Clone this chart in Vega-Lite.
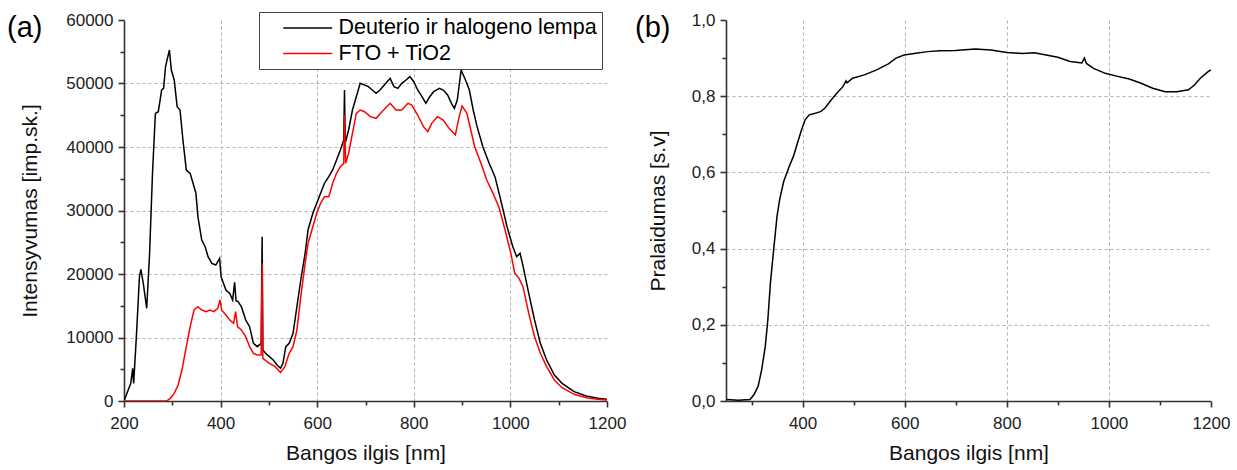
{
  "$schema": "https://vega.github.io/schema/vega-lite/v6.json",
  "padding": {"left": 7, "top": 11, "right": 5, "bottom": 5},
  "background": "white",
  "config": {
    "view": {"stroke": null},
    "font": "Liberation Sans",
    "axis": {
      "labelFont": "Liberation Sans",
      "labelFontSize": 17,
      "labelColor": "#222",
      "labelFlush": false,
      "titleFont": "Liberation Sans",
      "titleFontSize": 21,
      "titleFontWeight": "normal",
      "titleColor": "#111",
      "domainColor": "#333",
      "domainWidth": 1.6,
      "tickColor": "#333",
      "tickWidth": 1.6,
      "gridColor": "#b0b0b0",
      "gridDash": [3, 3],
      "gridWidth": 1
    }
  },
  "datasets": {
    "a": [
      {"x": 200, "y": 0, "s": "Deuterio ir halogeno lempa"},
      {"x": 214, "y": 2782, "s": "Deuterio ir halogeno lempa"},
      {"x": 218, "y": 5144, "s": "Deuterio ir halogeno lempa"},
      {"x": 220, "y": 2782, "s": "Deuterio ir halogeno lempa"},
      {"x": 226, "y": 10656, "s": "Deuterio ir halogeno lempa"},
      {"x": 232, "y": 19580, "s": "Deuterio ir halogeno lempa"},
      {"x": 235, "y": 20735, "s": "Deuterio ir halogeno lempa"},
      {"x": 240, "y": 18500, "s": "Deuterio ir halogeno lempa"},
      {"x": 247, "y": 14593, "s": "Deuterio ir halogeno lempa"},
      {"x": 253, "y": 23255, "s": "Deuterio ir halogeno lempa"},
      {"x": 259, "y": 35853, "s": "Deuterio ir halogeno lempa"},
      {"x": 265, "y": 45300, "s": "Deuterio ir halogeno lempa"},
      {"x": 271, "y": 45563, "s": "Deuterio ir halogeno lempa"},
      {"x": 278, "y": 48976, "s": "Deuterio ir halogeno lempa"},
      {"x": 282, "y": 49240, "s": "Deuterio ir halogeno lempa"},
      {"x": 286, "y": 52651, "s": "Deuterio ir halogeno lempa"},
      {"x": 294, "y": 55276, "s": "Deuterio ir halogeno lempa"},
      {"x": 298, "y": 52126, "s": "Deuterio ir halogeno lempa"},
      {"x": 304, "y": 50551, "s": "Deuterio ir halogeno lempa"},
      {"x": 310, "y": 46352, "s": "Deuterio ir halogeno lempa"},
      {"x": 316, "y": 45825, "s": "Deuterio ir halogeno lempa"},
      {"x": 322, "y": 41100, "s": "Deuterio ir halogeno lempa"},
      {"x": 329, "y": 36378, "s": "Deuterio ir halogeno lempa"},
      {"x": 337, "y": 35853, "s": "Deuterio ir halogeno lempa"},
      {"x": 345, "y": 33753, "s": "Deuterio ir halogeno lempa"},
      {"x": 349, "y": 32703, "s": "Deuterio ir halogeno lempa"},
      {"x": 353, "y": 29028, "s": "Deuterio ir halogeno lempa"},
      {"x": 361, "y": 25354, "s": "Deuterio ir halogeno lempa"},
      {"x": 368, "y": 24304, "s": "Deuterio ir halogeno lempa"},
      {"x": 374, "y": 22729, "s": "Deuterio ir halogeno lempa"},
      {"x": 382, "y": 21680, "s": "Deuterio ir halogeno lempa"},
      {"x": 390, "y": 21417, "s": "Deuterio ir halogeno lempa"},
      {"x": 398, "y": 22467, "s": "Deuterio ir halogeno lempa"},
      {"x": 401, "y": 19580, "s": "Deuterio ir halogeno lempa"},
      {"x": 411, "y": 17480, "s": "Deuterio ir halogeno lempa"},
      {"x": 419, "y": 16955, "s": "Deuterio ir halogeno lempa"},
      {"x": 425, "y": 15900, "s": "Deuterio ir halogeno lempa"},
      {"x": 429, "y": 18700, "s": "Deuterio ir halogeno lempa"},
      {"x": 432, "y": 15800, "s": "Deuterio ir halogeno lempa"},
      {"x": 436, "y": 15643, "s": "Deuterio ir halogeno lempa"},
      {"x": 443, "y": 14855, "s": "Deuterio ir halogeno lempa"},
      {"x": 452, "y": 12755, "s": "Deuterio ir halogeno lempa"},
      {"x": 460, "y": 11706, "s": "Deuterio ir halogeno lempa"},
      {"x": 468, "y": 9081, "s": "Deuterio ir halogeno lempa"},
      {"x": 476, "y": 8556, "s": "Deuterio ir halogeno lempa"},
      {"x": 484, "y": 9081, "s": "Deuterio ir halogeno lempa"},
      {"x": 486, "y": 25879, "s": "Deuterio ir halogeno lempa"},
      {"x": 487.5, "y": 8031, "s": "Deuterio ir halogeno lempa"},
      {"x": 493, "y": 7506, "s": "Deuterio ir halogeno lempa"},
      {"x": 501, "y": 6981, "s": "Deuterio ir halogeno lempa"},
      {"x": 509, "y": 6457, "s": "Deuterio ir halogeno lempa"},
      {"x": 517, "y": 5669, "s": "Deuterio ir halogeno lempa"},
      {"x": 524, "y": 5144, "s": "Deuterio ir halogeno lempa"},
      {"x": 529, "y": 5932, "s": "Deuterio ir halogeno lempa"},
      {"x": 535, "y": 8556, "s": "Deuterio ir halogeno lempa"},
      {"x": 542, "y": 9081, "s": "Deuterio ir halogeno lempa"},
      {"x": 550, "y": 10656, "s": "Deuterio ir halogeno lempa"},
      {"x": 558, "y": 14855, "s": "Deuterio ir halogeno lempa"},
      {"x": 566, "y": 19055, "s": "Deuterio ir halogeno lempa"},
      {"x": 575, "y": 23255, "s": "Deuterio ir halogeno lempa"},
      {"x": 581, "y": 26929, "s": "Deuterio ir halogeno lempa"},
      {"x": 591, "y": 29553, "s": "Deuterio ir halogeno lempa"},
      {"x": 599, "y": 31128, "s": "Deuterio ir halogeno lempa"},
      {"x": 607, "y": 32703, "s": "Deuterio ir halogeno lempa"},
      {"x": 615, "y": 34278, "s": "Deuterio ir halogeno lempa"},
      {"x": 624, "y": 35328, "s": "Deuterio ir halogeno lempa"},
      {"x": 632, "y": 36378, "s": "Deuterio ir halogeno lempa"},
      {"x": 640, "y": 37952, "s": "Deuterio ir halogeno lempa"},
      {"x": 648, "y": 39527, "s": "Deuterio ir halogeno lempa"},
      {"x": 655, "y": 41102, "s": "Deuterio ir halogeno lempa"},
      {"x": 656.5, "y": 48976, "s": "Deuterio ir halogeno lempa"},
      {"x": 658, "y": 40577, "s": "Deuterio ir halogeno lempa"},
      {"x": 665, "y": 42677, "s": "Deuterio ir halogeno lempa"},
      {"x": 673, "y": 45826, "s": "Deuterio ir halogeno lempa"},
      {"x": 681, "y": 47926, "s": "Deuterio ir halogeno lempa"},
      {"x": 689, "y": 50026, "s": "Deuterio ir halogeno lempa"},
      {"x": 698, "y": 49763, "s": "Deuterio ir halogeno lempa"},
      {"x": 706, "y": 49500, "s": "Deuterio ir halogeno lempa"},
      {"x": 714, "y": 48976, "s": "Deuterio ir halogeno lempa"},
      {"x": 722, "y": 48451, "s": "Deuterio ir halogeno lempa"},
      {"x": 730, "y": 48976, "s": "Deuterio ir halogeno lempa"},
      {"x": 739, "y": 49763, "s": "Deuterio ir halogeno lempa"},
      {"x": 751, "y": 50813, "s": "Deuterio ir halogeno lempa"},
      {"x": 759, "y": 49500, "s": "Deuterio ir halogeno lempa"},
      {"x": 767, "y": 49238, "s": "Deuterio ir halogeno lempa"},
      {"x": 775, "y": 50026, "s": "Deuterio ir halogeno lempa"},
      {"x": 784, "y": 50551, "s": "Deuterio ir halogeno lempa"},
      {"x": 792, "y": 51076, "s": "Deuterio ir halogeno lempa"},
      {"x": 800, "y": 50288, "s": "Deuterio ir halogeno lempa"},
      {"x": 808, "y": 48976, "s": "Deuterio ir halogeno lempa"},
      {"x": 817, "y": 47926, "s": "Deuterio ir halogeno lempa"},
      {"x": 825, "y": 46876, "s": "Deuterio ir halogeno lempa"},
      {"x": 833, "y": 47926, "s": "Deuterio ir halogeno lempa"},
      {"x": 841, "y": 48713, "s": "Deuterio ir halogeno lempa"},
      {"x": 853, "y": 49238, "s": "Deuterio ir halogeno lempa"},
      {"x": 861, "y": 48976, "s": "Deuterio ir halogeno lempa"},
      {"x": 870, "y": 48188, "s": "Deuterio ir halogeno lempa"},
      {"x": 878, "y": 46876, "s": "Deuterio ir halogeno lempa"},
      {"x": 884, "y": 46089, "s": "Deuterio ir halogeno lempa"},
      {"x": 890, "y": 47401, "s": "Deuterio ir halogeno lempa"},
      {"x": 898, "y": 52126, "s": "Deuterio ir halogeno lempa"},
      {"x": 907, "y": 50551, "s": "Deuterio ir halogeno lempa"},
      {"x": 915, "y": 48976, "s": "Deuterio ir halogeno lempa"},
      {"x": 923, "y": 45826, "s": "Deuterio ir halogeno lempa"},
      {"x": 931, "y": 43202, "s": "Deuterio ir halogeno lempa"},
      {"x": 943, "y": 40052, "s": "Deuterio ir halogeno lempa"},
      {"x": 956, "y": 37427, "s": "Deuterio ir halogeno lempa"},
      {"x": 968, "y": 35328, "s": "Deuterio ir halogeno lempa"},
      {"x": 980, "y": 31653, "s": "Deuterio ir halogeno lempa"},
      {"x": 993, "y": 27454, "s": "Deuterio ir halogeno lempa"},
      {"x": 1005, "y": 24304, "s": "Deuterio ir halogeno lempa"},
      {"x": 1013, "y": 22729, "s": "Deuterio ir halogeno lempa"},
      {"x": 1020, "y": 23255, "s": "Deuterio ir halogeno lempa"},
      {"x": 1025, "y": 21680, "s": "Deuterio ir halogeno lempa"},
      {"x": 1038, "y": 16955, "s": "Deuterio ir halogeno lempa"},
      {"x": 1050, "y": 12756, "s": "Deuterio ir halogeno lempa"},
      {"x": 1062, "y": 9081, "s": "Deuterio ir halogeno lempa"},
      {"x": 1075, "y": 6457, "s": "Deuterio ir halogeno lempa"},
      {"x": 1091, "y": 4094, "s": "Deuterio ir halogeno lempa"},
      {"x": 1107, "y": 2782, "s": "Deuterio ir halogeno lempa"},
      {"x": 1132, "y": 1470, "s": "Deuterio ir halogeno lempa"},
      {"x": 1157, "y": 787, "s": "Deuterio ir halogeno lempa"},
      {"x": 1181, "y": 420, "s": "Deuterio ir halogeno lempa"},
      {"x": 1200, "y": 262, "s": "Deuterio ir halogeno lempa"},
      {"x": 200, "y": 0, "s": "FTO + TiO2"},
      {"x": 288, "y": 0, "s": "FTO + TiO2"},
      {"x": 296, "y": 420, "s": "FTO + TiO2"},
      {"x": 304, "y": 1207, "s": "FTO + TiO2"},
      {"x": 312, "y": 2520, "s": "FTO + TiO2"},
      {"x": 320, "y": 4882, "s": "FTO + TiO2"},
      {"x": 329, "y": 8556, "s": "FTO + TiO2"},
      {"x": 337, "y": 11706, "s": "FTO + TiO2"},
      {"x": 345, "y": 14330, "s": "FTO + TiO2"},
      {"x": 353, "y": 14855, "s": "FTO + TiO2"},
      {"x": 361, "y": 14330, "s": "FTO + TiO2"},
      {"x": 370, "y": 14068, "s": "FTO + TiO2"},
      {"x": 378, "y": 14330, "s": "FTO + TiO2"},
      {"x": 386, "y": 14068, "s": "FTO + TiO2"},
      {"x": 394, "y": 14593, "s": "FTO + TiO2"},
      {"x": 399, "y": 15905, "s": "FTO + TiO2"},
      {"x": 402, "y": 14330, "s": "FTO + TiO2"},
      {"x": 411, "y": 13543, "s": "FTO + TiO2"},
      {"x": 419, "y": 12756, "s": "FTO + TiO2"},
      {"x": 427, "y": 12231, "s": "FTO + TiO2"},
      {"x": 431, "y": 14068, "s": "FTO + TiO2"},
      {"x": 435, "y": 11706, "s": "FTO + TiO2"},
      {"x": 443, "y": 11181, "s": "FTO + TiO2"},
      {"x": 452, "y": 10131, "s": "FTO + TiO2"},
      {"x": 460, "y": 8556, "s": "FTO + TiO2"},
      {"x": 468, "y": 7506, "s": "FTO + TiO2"},
      {"x": 476, "y": 7244, "s": "FTO + TiO2"},
      {"x": 484, "y": 7244, "s": "FTO + TiO2"},
      {"x": 486, "y": 21680, "s": "FTO + TiO2"},
      {"x": 487.5, "y": 6719, "s": "FTO + TiO2"},
      {"x": 501, "y": 5932, "s": "FTO + TiO2"},
      {"x": 513, "y": 5407, "s": "FTO + TiO2"},
      {"x": 524, "y": 4462, "s": "FTO + TiO2"},
      {"x": 533, "y": 5407, "s": "FTO + TiO2"},
      {"x": 542, "y": 7506, "s": "FTO + TiO2"},
      {"x": 550, "y": 8556, "s": "FTO + TiO2"},
      {"x": 558, "y": 11181, "s": "FTO + TiO2"},
      {"x": 566, "y": 16430, "s": "FTO + TiO2"},
      {"x": 575, "y": 21680, "s": "FTO + TiO2"},
      {"x": 581, "y": 24829, "s": "FTO + TiO2"},
      {"x": 591, "y": 27454, "s": "FTO + TiO2"},
      {"x": 599, "y": 29553, "s": "FTO + TiO2"},
      {"x": 607, "y": 31128, "s": "FTO + TiO2"},
      {"x": 615, "y": 32178, "s": "FTO + TiO2"},
      {"x": 624, "y": 32178, "s": "FTO + TiO2"},
      {"x": 632, "y": 34278, "s": "FTO + TiO2"},
      {"x": 640, "y": 35853, "s": "FTO + TiO2"},
      {"x": 648, "y": 36903, "s": "FTO + TiO2"},
      {"x": 655, "y": 37428, "s": "FTO + TiO2"},
      {"x": 656.5, "y": 45038, "s": "FTO + TiO2"},
      {"x": 659, "y": 37428, "s": "FTO + TiO2"},
      {"x": 665, "y": 39002, "s": "FTO + TiO2"},
      {"x": 673, "y": 42152, "s": "FTO + TiO2"},
      {"x": 681, "y": 45301, "s": "FTO + TiO2"},
      {"x": 689, "y": 45826, "s": "FTO + TiO2"},
      {"x": 698, "y": 45563, "s": "FTO + TiO2"},
      {"x": 710, "y": 44776, "s": "FTO + TiO2"},
      {"x": 722, "y": 44514, "s": "FTO + TiO2"},
      {"x": 734, "y": 45563, "s": "FTO + TiO2"},
      {"x": 751, "y": 46876, "s": "FTO + TiO2"},
      {"x": 763, "y": 45826, "s": "FTO + TiO2"},
      {"x": 775, "y": 45826, "s": "FTO + TiO2"},
      {"x": 788, "y": 46876, "s": "FTO + TiO2"},
      {"x": 796, "y": 46613, "s": "FTO + TiO2"},
      {"x": 808, "y": 45038, "s": "FTO + TiO2"},
      {"x": 820, "y": 43202, "s": "FTO + TiO2"},
      {"x": 829, "y": 42414, "s": "FTO + TiO2"},
      {"x": 837, "y": 43727, "s": "FTO + TiO2"},
      {"x": 849, "y": 44776, "s": "FTO + TiO2"},
      {"x": 861, "y": 44251, "s": "FTO + TiO2"},
      {"x": 873, "y": 42939, "s": "FTO + TiO2"},
      {"x": 886, "y": 41889, "s": "FTO + TiO2"},
      {"x": 894, "y": 44776, "s": "FTO + TiO2"},
      {"x": 900, "y": 46455, "s": "FTO + TiO2"},
      {"x": 910, "y": 45301, "s": "FTO + TiO2"},
      {"x": 918, "y": 42677, "s": "FTO + TiO2"},
      {"x": 926, "y": 40052, "s": "FTO + TiO2"},
      {"x": 939, "y": 37428, "s": "FTO + TiO2"},
      {"x": 951, "y": 34803, "s": "FTO + TiO2"},
      {"x": 964, "y": 32703, "s": "FTO + TiO2"},
      {"x": 976, "y": 30603, "s": "FTO + TiO2"},
      {"x": 989, "y": 26929, "s": "FTO + TiO2"},
      {"x": 1001, "y": 23255, "s": "FTO + TiO2"},
      {"x": 1009, "y": 20105, "s": "FTO + TiO2"},
      {"x": 1018, "y": 19318, "s": "FTO + TiO2"},
      {"x": 1026, "y": 18005, "s": "FTO + TiO2"},
      {"x": 1038, "y": 13805, "s": "FTO + TiO2"},
      {"x": 1050, "y": 10131, "s": "FTO + TiO2"},
      {"x": 1062, "y": 7506, "s": "FTO + TiO2"},
      {"x": 1075, "y": 5407, "s": "FTO + TiO2"},
      {"x": 1091, "y": 3307, "s": "FTO + TiO2"},
      {"x": 1107, "y": 2100, "s": "FTO + TiO2"},
      {"x": 1132, "y": 1050, "s": "FTO + TiO2"},
      {"x": 1157, "y": 525, "s": "FTO + TiO2"},
      {"x": 1181, "y": 262, "s": "FTO + TiO2"},
      {"x": 1200, "y": 157, "s": "FTO + TiO2"}
    ],
    "b": [
      {"x": 251, "t": 0.004}, {"x": 274, "t": 0.002}, {"x": 297, "t": 0.004},
      {"x": 305, "t": 0.017}, {"x": 313, "t": 0.039}, {"x": 320, "t": 0.083},
      {"x": 327, "t": 0.144}, {"x": 332, "t": 0.214}, {"x": 337, "t": 0.31},
      {"x": 344, "t": 0.406}, {"x": 350, "t": 0.485}, {"x": 355, "t": 0.528},
      {"x": 363, "t": 0.576}, {"x": 374, "t": 0.616}, {"x": 382, "t": 0.642},
      {"x": 390, "t": 0.677}, {"x": 398, "t": 0.712}, {"x": 405, "t": 0.738},
      {"x": 413, "t": 0.751}, {"x": 425, "t": 0.755}, {"x": 436, "t": 0.76},
      {"x": 444, "t": 0.769}, {"x": 456, "t": 0.79}, {"x": 467, "t": 0.808},
      {"x": 479, "t": 0.825}, {"x": 485, "t": 0.84}, {"x": 487, "t": 0.835},
      {"x": 498, "t": 0.847}, {"x": 521, "t": 0.856}, {"x": 545, "t": 0.869},
      {"x": 568, "t": 0.885}, {"x": 583, "t": 0.9}, {"x": 599, "t": 0.908},
      {"x": 622, "t": 0.913}, {"x": 645, "t": 0.917}, {"x": 668, "t": 0.919},
      {"x": 699, "t": 0.92}, {"x": 738, "t": 0.924}, {"x": 769, "t": 0.921},
      {"x": 800, "t": 0.915}, {"x": 831, "t": 0.912}, {"x": 854, "t": 0.914},
      {"x": 877, "t": 0.908}, {"x": 900, "t": 0.902}, {"x": 924, "t": 0.891},
      {"x": 947, "t": 0.887}, {"x": 952, "t": 0.9}, {"x": 956, "t": 0.886},
      {"x": 970, "t": 0.873}, {"x": 993, "t": 0.86}, {"x": 1017, "t": 0.852},
      {"x": 1040, "t": 0.845}, {"x": 1063, "t": 0.834}, {"x": 1086, "t": 0.821},
      {"x": 1110, "t": 0.812}, {"x": 1133, "t": 0.812}, {"x": 1156, "t": 0.817},
      {"x": 1168, "t": 0.83}, {"x": 1179, "t": 0.847}, {"x": 1195, "t": 0.865},
      {"x": 1200, "t": 0.869}
    ]
  },
  "hconcat": [
    {
      "width": 483,
      "height": 381,
      "title": {"text": "(a)", "anchor": "start", "frame": "group", "font": "Liberation Sans", "fontSize": 29, "fontWeight": "normal", "color": "#000", "baseline": "top", "offset": 0, "dx": -117, "dy": 32},
      "data": {"name": "a"},
      "mark": {"type": "line", "strokeWidth": 1.5, "clip": true},
      "encoding": {
        "x": {
          "field": "x", "type": "quantitative",
          "scale": {"domain": [200, 1200], "nice": false, "zero": false},
          "axis": {
            "title": "Bangos ilgis [nm]",
            "values": [200, 300, 400, 500, 600, 700, 800, 900, 1000, 1100, 1200],
            "labelExpr": "datum.value % 200 === 0 ? datum.label : ''",
            "format": "d",
            "tickSize": {"condition": {"test": "datum.value % 200 === 0", "value": 6}, "value": 4},
            "gridOpacity": {"condition": {"test": "datum.value % 200 === 0 && datum.value > 200 && datum.value < 1200", "value": 1}, "value": 0},
            "labelPadding": 8,
            "titlePadding": 11
          }
        },
        "y": {
          "field": "y", "type": "quantitative",
          "scale": {"domain": [0, 60000], "nice": false},
          "axis": {
            "title": "Intensyvumas [imp.sk.]",
            "values": [0, 5000, 10000, 15000, 20000, 25000, 30000, 35000, 40000, 45000, 50000, 55000, 60000],
            "labelExpr": "datum.value % 10000 === 0 ? datum.label : ''",
            "format": "d",
            "tickSize": {"condition": {"test": "datum.value % 10000 === 0", "value": 6}, "value": 4},
            "gridOpacity": {"condition": {"test": "datum.value % 10000 === 0 && datum.value > 0 && datum.value < 60000", "value": 1}, "value": 0},
            "labelPadding": 5,
            "titlePadding": 25
          }
        },
        "color": {
          "field": "s", "type": "nominal",
          "scale": {"domain": ["Deuterio ir halogeno lempa", "FTO + TiO2"], "range": ["#000000", "#ff0000"]},
          "legend": {
            "title": null,
            "orient": "none",
            "legendX": 135,
            "legendY": -8,
            "symbolType": "M-2.5,0H2.5",
            "symbolSize": 384,
            "symbolStrokeWidth": 1.5,
            "symbolOffset": 32.75,
            "labelFont": "Liberation Sans",
            "labelFontSize": 21.5,
            "labelColor": "#000",
            "labelLimit": 500,
            "labelOffset": 19.75,
            "rowPadding": 3.5,
            "padding": 5,
            "strokeColor": "#444",
            "fillColor": "#ffffff"
          }
        }
      }
    },
    {
      "width": 485,
      "height": 381,
      "title": {"text": "(b)", "anchor": "start", "frame": "group", "font": "Liberation Sans", "fontSize": 29, "fontWeight": "normal", "color": "#000", "baseline": "top", "offset": 0, "dx": -91, "dy": 32},
      "data": {"name": "b"},
      "mark": {"type": "line", "strokeWidth": 1.5, "color": "#000", "clip": true},
      "encoding": {
        "x": {
          "field": "x", "type": "quantitative",
          "scale": {"domain": [250, 1200], "nice": false, "zero": false},
          "axis": {
            "title": "Bangos ilgis [nm]",
            "values": [300, 400, 500, 600, 700, 800, 900, 1000, 1100, 1200],
            "labelExpr": "datum.value % 200 === 0 ? datum.label : ''",
            "format": "d",
            "tickSize": {"condition": {"test": "datum.value % 200 === 0", "value": 6}, "value": 4},
            "gridOpacity": {"condition": {"test": "datum.value % 200 === 0 && datum.value < 1200", "value": 1}, "value": 0},
            "labelPadding": 8,
            "titlePadding": 11
          }
        },
        "y": {
          "field": "t", "type": "quantitative",
          "scale": {"domain": [0, 1], "nice": false},
          "axis": {
            "title": "Pralaidumas [s.v]",
            "values": [0, 0.1, 0.2, 0.3, 0.4, 0.5, 0.6, 0.7, 0.8, 0.9, 1.0],
            "labelExpr": "round(datum.value * 10) % 2 === 0 ? replace(format(datum.value, '.1f'), '.', ',') : ''",
            "tickSize": {"condition": {"test": "round(datum.value * 10) % 2 === 0", "value": 6}, "value": 4},
            "gridOpacity": {"condition": {"test": "round(datum.value * 10) % 2 === 0 && datum.value > 0.05 && datum.value < 0.95", "value": 1}, "value": 0},
            "labelPadding": 5,
            "titlePadding": 23
          }
        }
      }
    }
  ],
  "spacing": 9
}
